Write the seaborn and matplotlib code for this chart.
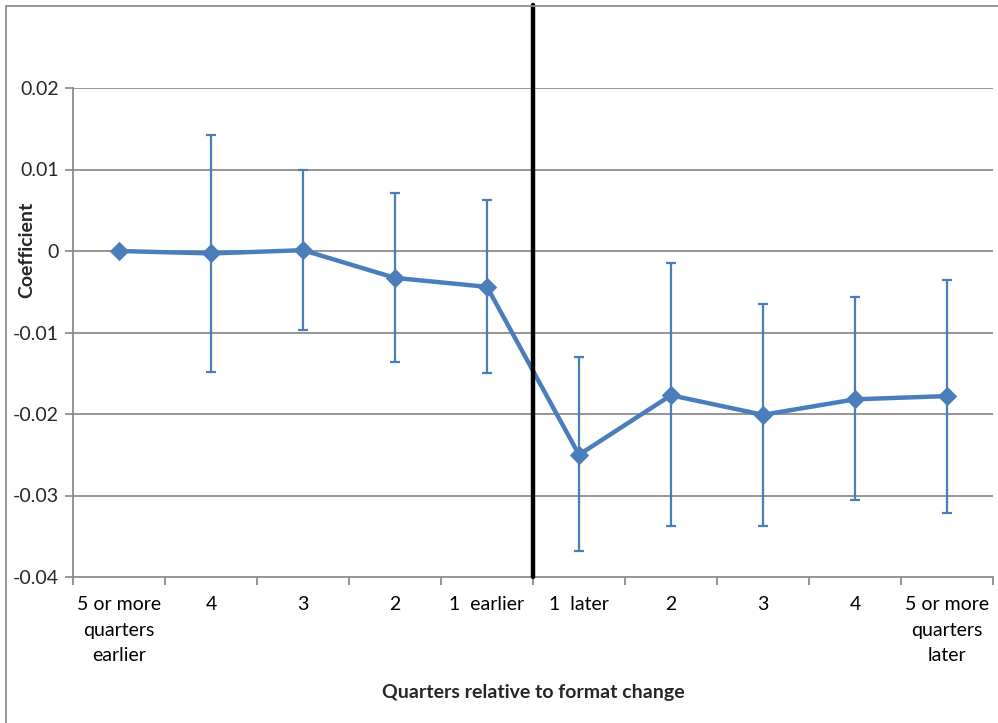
import numpy as np
import pandas as pd
import matplotlib
matplotlib.use("Agg")
import matplotlib.pyplot as plt
from matplotlib.lines import Line2D
import seaborn as sns

categories = ["5 or more\nquarters\nearlier", "4", "3", "2", "1  earlier",
              "1  later", "2", "3", "4", "5 or more\nquarters\nlater"]
coef = [0.0, -0.0003, 0.0001, -0.0033, -0.0044, -0.0250, -0.0177, -0.0201, -0.0182, -0.0178]
ci_low = [np.nan, -0.0148, -0.0097, -0.0136, -0.0150, -0.0368, -0.0337, -0.0338, -0.0306, -0.0321]
ci_high = [np.nan, 0.0142, 0.0099, 0.0071, 0.0062, -0.0130, -0.0015, -0.0065, -0.0057, -0.0035]
yticks = [-0.04, -0.03, -0.02, -0.01, 0, 0.01, 0.02]
ytick_labels = ["-0.04", "-0.03", "-0.02", "-0.01", "0", "0.01", "0.02"]

sns.set_theme(style="white")
plt.rcParams['font.family'] = ['Lato', 'DejaVu Sans']

W, H = 998, 723
fig = plt.figure(figsize=(W / 100, H / 100), dpi=100)
ax = fig.add_axes([73 / W, 1 - 577 / H, 920 / W, 489 / H])

blue = "#4A7EBB"
grid_c = "#8C8C8C"
df = pd.DataFrame({"pos": np.arange(len(coef)), "coef": coef,
                   "lo": ci_low, "hi": ci_high})

yerr = np.vstack([df["coef"] - df["lo"], df["hi"] - df["coef"]])
ax.errorbar(df["pos"], df["coef"], yerr=yerr, fmt="none", ecolor=blue,
            elinewidth=1.6, capsize=3.8, capthick=1.6, zorder=3)
sns.lineplot(data=df, x="pos", y="coef", ax=ax, color=blue, linewidth=3.2,
             marker="D", markersize=9.5, markeredgecolor=blue, zorder=4)

fs = 14
ax.set_xlim(-0.5, 9.5)
ax.set_ylim(-0.04, 0.02)
ax.set_yticks(yticks)
ax.set_yticklabels(ytick_labels, fontsize=fs)
for y in yticks[1:]:
    ax.axhline(y, color=grid_c, lw=1.3, zorder=1)

ax.set_xticks(np.arange(10))
ax.set_xticklabels(categories, fontsize=fs, linespacing=1.6)
ax.set_xticks(np.arange(-0.5, 10, 1), minor=True)
ax.tick_params(axis="x", which="major", length=0, pad=14, colors="black")
ax.tick_params(axis="x", which="minor", length=6, width=1.3, color=grid_c, direction="out")
ax.tick_params(axis="y", length=6, width=1.3, color=grid_c, direction="out", pad=4)
ax.xaxis.set_tick_params(bottom=True, which="both")
ax.yaxis.set_tick_params(left=True)

for s in ["top", "right"]:
    ax.spines[s].set_visible(False)
for s in ["left", "bottom"]:
    ax.spines[s].set_color(grid_c)
    ax.spines[s].set_linewidth(1.3)

ax.set_xlabel("Quarters relative to format change", fontsize=fs, fontweight="bold")
ax.xaxis.set_label_coords(0.5, -0.218)
ax.set_ylabel("Coefficient", fontsize=fs, fontweight="bold")
ax.yaxis.set_label_coords(-0.041, 0.669)

# vertical divider extending above plot area
ax.plot([4.5, 4.5], [-0.04, 0.0302], color="black", lw=3.2, clip_on=False, zorder=5)

# outer chart border
fig.add_artist(Line2D([5.5 / W, 5.5 / W], [0, 1 - 5.5 / H], color=grid_c, lw=1.3))
fig.add_artist(Line2D([5.5 / W, 1], [1 - 5.5 / H, 1 - 5.5 / H], color=grid_c, lw=1.3))

fig.savefig("out.png", dpi=100)
